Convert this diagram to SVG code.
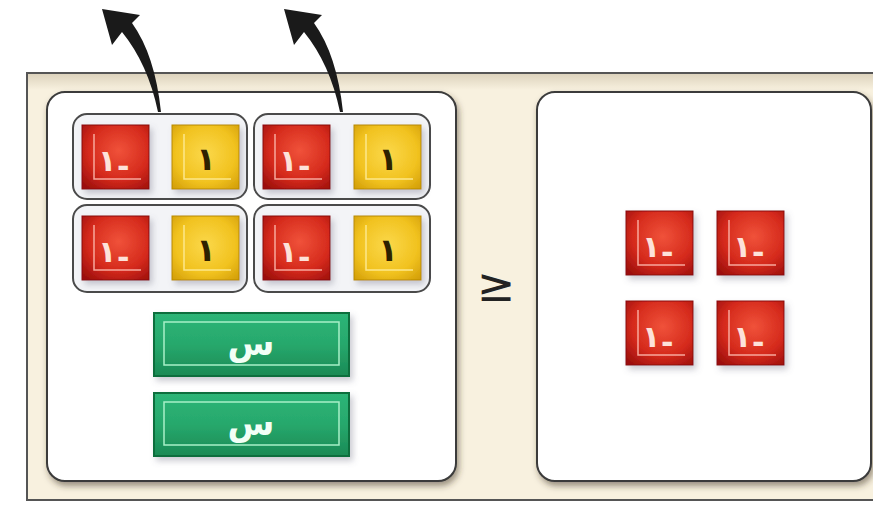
<svg xmlns="http://www.w3.org/2000/svg" xmlns:xlink="http://www.w3.org/1999/xlink" width="873" height="506" viewBox="0 0 873 506">
<defs>
<radialGradient id="redG" cx="0.55" cy="0.4" r="0.75">
<stop offset="0" stop-color="#f0523a"/><stop offset="0.6" stop-color="#d52a1c"/><stop offset="1" stop-color="#9c0f0c"/>
</radialGradient>
<radialGradient id="yelG" cx="0.5" cy="0.45" r="0.75">
<stop offset="0" stop-color="#fbd84a"/><stop offset="0.6" stop-color="#f1c21f"/><stop offset="1" stop-color="#cf9a05"/>
</radialGradient>
<linearGradient id="grnG" x1="0" y1="0" x2="0" y2="1">
<stop offset="0" stop-color="#2db577"/><stop offset="0.5" stop-color="#27a86c"/><stop offset="1" stop-color="#1a8a55"/>
</linearGradient>
<linearGradient id="tanBand" x1="0" y1="0" x2="0" y2="1">
<stop offset="0" stop-color="#ddd3bd"/><stop offset="1" stop-color="#f8f1df"/>
</linearGradient>
<filter id="sh" x="-20%" y="-20%" width="150%" height="150%">
<feDropShadow dx="3" dy="4" stdDeviation="3" flood-color="#6a6a80" flood-opacity="0.35"/>
</filter>
<filter id="psh" x="-5%" y="-5%" width="115%" height="115%">
<feDropShadow dx="2" dy="4" stdDeviation="3" flood-color="#3a3020" flood-opacity="0.5"/>
</filter>
<g id="redTile">
<rect x="0" y="0" width="67" height="64" fill="url(#redG)" stroke="#8a0b0b" stroke-width="1"/>
<polyline points="12,9 12,54 59,54" fill="none" stroke="#f7a89c" stroke-width="1.5"/>
</g>
<g id="yelTile">
<rect x="0" y="0" width="67" height="64" fill="url(#yelG)" stroke="#b88a00" stroke-width="1"/>
<polyline points="12,9 12,54 59,54" fill="none" stroke="#fde78a" stroke-width="1.5"/>
</g>
<g id="grnBar">
<rect x="0" y="0" width="195" height="63" fill="url(#grnG)" stroke="#0f6e3d" stroke-width="2"/>
<rect x="10" y="9" width="175" height="43" fill="none" stroke="#a8f0c8" stroke-width="1.5"/>
</g>
<path id="arrow" d="M102,9 L140,15 L132,23 Q155,55 161,112 L158,112 Q148,64 122,32 L112,45 Z" fill="#1a1a1a"/>
</defs>
<style>
.grp{fill:#f3f4f7;stroke:#4a4a4a;stroke-width:2}
.panel{fill:#ffffff;stroke:#3a3a3a;stroke-width:2}
.rt{font-family:"DejaVu Sans",sans-serif;font-weight:bold;fill:#fde2da;font-size:30px}
.yt{font-family:"DejaVu Sans",sans-serif;font-weight:bold;fill:#2e2200;font-size:32px;text-anchor:middle}
.gt{font-family:"DejaVu Sans",sans-serif;font-weight:bold;fill:#f2fff6;font-size:34px;text-anchor:middle}
.sym{font-family:"DejaVu Sans",sans-serif;fill:#222;font-size:46px;text-anchor:middle}
</style>
<rect width="873" height="506" fill="#ffffff"/>
<g id="background">
<rect x="27" y="73" width="860" height="427" fill="#f8f1df" stroke="#555" stroke-width="2"/>
<rect x="28" y="74" width="858" height="16" fill="url(#tanBand)"/>
</g>
<g id="leftPanel">
<rect class="panel" x="47" y="92" width="409" height="389" rx="18" filter="url(#psh)"/>
</g>
<g id="rightPanel">
<rect class="panel" x="537" y="92" width="334" height="389" rx="18" filter="url(#psh)"/>
</g>
<g id="group1"><rect class="grp" x="73" y="114" width="174" height="85" rx="14"/>
<g filter="url(#sh)"><use xlink:href="#redTile" x="82" y="125"/><use xlink:href="#yelTile" x="172" y="125"/></g>
<text class="rt"><tspan x="98" y="171">١</tspan><tspan x="117" y="177">-</tspan></text>
<text class="yt" x="206" y="170">١</text>
</g>
<g id="group2"><rect class="grp" x="254" y="114" width="176" height="85" rx="14"/>
<g filter="url(#sh)"><use xlink:href="#redTile" x="263" y="125"/><use xlink:href="#yelTile" x="354" y="125"/></g>
<text class="rt"><tspan x="279" y="171">١</tspan><tspan x="298" y="177">-</tspan></text>
<text class="yt" x="388" y="170">١</text>
</g>
<g id="group3"><rect class="grp" x="73" y="205" width="174" height="87" rx="14"/>
<g filter="url(#sh)"><use xlink:href="#redTile" x="82" y="216"/><use xlink:href="#yelTile" x="172" y="216"/></g>
<text class="rt"><tspan x="98" y="262">١</tspan><tspan x="117" y="268">-</tspan></text>
<text class="yt" x="206" y="261">١</text>
</g>
<g id="group4"><rect class="grp" x="254" y="205" width="176" height="87" rx="14"/>
<g filter="url(#sh)"><use xlink:href="#redTile" x="263" y="216"/><use xlink:href="#yelTile" x="354" y="216"/></g>
<text class="rt"><tspan x="279" y="262">١</tspan><tspan x="298" y="268">-</tspan></text>
<text class="yt" x="388" y="261">١</text>
</g>
<g id="xbar1"><use xlink:href="#grnBar" x="154" y="313" filter="url(#sh)"/><text class="gt" x="251" y="355">س</text></g>
<g id="xbar2"><use xlink:href="#grnBar" x="154" y="393" filter="url(#sh)"/><text class="gt" x="251" y="435">س</text></g>
<g id="relation"><text class="sym" x="496" y="301">≥</text></g>
<g id="rtile1"><use xlink:href="#redTile" x="626" y="211" filter="url(#sh)"/><text class="rt"><tspan x="642" y="257">١</tspan><tspan x="661" y="263">-</tspan></text></g>
<g id="rtile2"><use xlink:href="#redTile" x="717" y="211" filter="url(#sh)"/><text class="rt"><tspan x="733" y="257">١</tspan><tspan x="752" y="263">-</tspan></text></g>
<g id="rtile3"><use xlink:href="#redTile" x="626" y="301" filter="url(#sh)"/><text class="rt"><tspan x="642" y="347">١</tspan><tspan x="661" y="353">-</tspan></text></g>
<g id="rtile4"><use xlink:href="#redTile" x="717" y="301" filter="url(#sh)"/><text class="rt"><tspan x="733" y="347">١</tspan><tspan x="752" y="353">-</tspan></text></g>
<g id="connectors">
<use xlink:href="#arrow"/>
<use xlink:href="#arrow" x="182"/>
</g>
</svg>
